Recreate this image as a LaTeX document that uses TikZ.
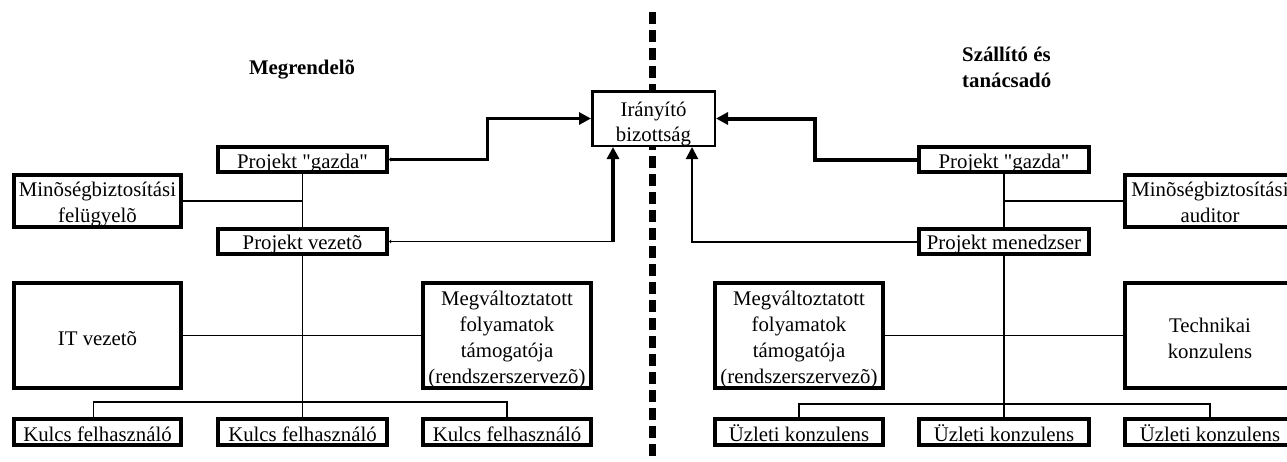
\documentclass[tikz,border=0pt]{standalone}
\usepackage{fontspec}
\setmainfont{Liberation Serif}[Ligatures=TeXOff]
\usetikzlibrary{arrows.meta}
\newcommand{\mlines}[1]{\begin{tabular}[b]{@{}c@{}}#1\end{tabular}}
\tikzset{
  box/.style={draw, line width=4pt, fill=white, inner sep=0pt,
    font=\fontsize{20.8}{26}\selectfont, text depth=0pt},
  top1/.style={box, minimum height=25pt, text height=17pt},
  bot1/.style={box, minimum height=26pt, text height=19pt},
  big/.style={box, minimum height=105pt},
  tree/.style={line width=1.5pt},
  bigtip/.style={-{Triangle[length=12pt,width=12pt]}},
  lbl/.style={font=\bfseries\fontsize{20.8}{26}\selectfont, inner sep=0pt},
}
\begin{document}
\begin{tikzpicture}[x=1pt,y=-1pt]
\useasboundingbox (0,0) rectangle (1287,461);
\fill[white] (0,0) rectangle (1287,461);

% divider
\coordinate (dtop) at (652,12);
\coordinate (dbot) at (652,475);
\draw[line width=7pt, dash pattern=on 12pt off 6pt] (dtop) -- (dbot);

% titles
\node[lbl, anchor=base] (lblL) at (302,74) {Megrendelõ};
\node[lbl, anchor=base west] (lblR) at (962,87) {\begin{tabular}[b]{@{}l@{}}Szállító és\\tanácsadó\end{tabular}};

% steering committee
\node[box, line width=2.5pt, minimum width=122.5pt, minimum height=54.5pt, text height=45pt,
      font=\fontsize{20.8}{24.5}\selectfont] (ib) at (653.5,118.5) {\mlines{Irányító\\bizottság}};

% left side
\node[top1, minimum width=169pt] (pgL) at (302.5,159.5) {Projekt "gazda"};
\node[box, minimum width=167pt, minimum height=52pt, text height=42pt] (mbL) at (97.5,201) {\mlines{Minõségbiztosítási\\felügyelõ}};
\node[top1, minimum width=169pt, text height=16pt] (pvL) at (302.5,241.5) {Projekt vezetõ};
\node[big, minimum width=167pt, text height=19pt] (itL) at (97.5,335.5) {IT vezetõ};
\node[big, minimum width=168pt, text height=95pt] (mvL) at (507,335.5) {\mlines{Megváltoztatott\\folyamatok\\támogatója\\(rendszerszervezõ)}};
\node[bot1, minimum width=167pt] (k1) at (97.5,432) {Kulcs felhasználó};
\node[bot1, minimum width=169pt] (k2) at (302.5,432) {Kulcs felhasználó};
\node[bot1, minimum width=168pt] (k3) at (507,432) {Kulcs felhasználó};

% right side
\node[top1, minimum width=170pt] (pgR) at (1004,159.5) {Projekt "gazda"};
\node[box, minimum width=170pt, minimum height=52pt, text height=42pt] (mbR) at (1210,201) {\mlines{Minõségbiztosítási\\auditor}};
\node[top1, minimum width=170pt, text height=16pt] (pmR) at (1004,241.5) {Projekt menedzser};
\node[big, minimum width=168pt, text height=95pt] (mvR) at (799,335.5) {\mlines{Megváltoztatott\\folyamatok\\támogatója\\(rendszerszervezõ)}};
\node[big, minimum width=170pt, text height=45pt] (tkR) at (1210,335.5) {\mlines{Technikai\\konzulens}};
\node[bot1, minimum width=168pt] (u1) at (799,432) {Üzleti konzulens};
\node[bot1, minimum width=170pt] (u2) at (1004,432) {Üzleti konzulens};
\node[bot1, minimum width=170pt] (u3) at (1210,432) {Üzleti konzulens};

% tree lines left
\draw[tree] (pgL.south) -- (pvL.north);
\draw[tree] (mbL.east) -- (mbL.east -| pgL.south);
\draw[tree] (pvL.south) -- (k2.north);
\draw[tree] (itL.east) -- (mvL.west);
\draw[tree] ([xshift=-4pt]k1.north) -- ++(0,-15) -| (k3.north);

% tree lines right
\draw[tree] (pgR.south) -- (pmR.north);
\draw[tree] (mbR.west) -- (mbR.west -| pgR.south);
\draw[tree] (pmR.south) -- (u2.north);
\draw[tree] (mvR.east) -- (tkR.west);
\draw[tree] (u1.north) -- ++(0,-13) -| (u3.north);

% connectors to steering committee
\draw[line width=3pt, {Triangle[length=2pt,width=4pt]}-{Triangle[length=12pt,width=12pt]}]
  (pgL.east) -| ([xshift=-104pt]ib.west) -- (ib.west);
\coordinate (pvx) at ([xshift=-40.5pt]ib.south);
\draw[line width=1.5pt, {Triangle[length=2pt,width=3.5pt]}-] (pvL.east) -- (pvx |- pvL.east);
\draw[line width=4pt, bigtip] ([yshift=-0.75pt]pvx |- pvL.east) -- (pvx);
\draw[line width=4pt, bigtip] (pgR.west) -| ([xshift=99pt]ib.east) -- (ib.east);
\coordinate (pmx) at ([xshift=38.5pt]ib.south);
\draw[line width=2pt, bigtip] (pmR.west) -| (pmx);
\end{tikzpicture}
\end{document}
